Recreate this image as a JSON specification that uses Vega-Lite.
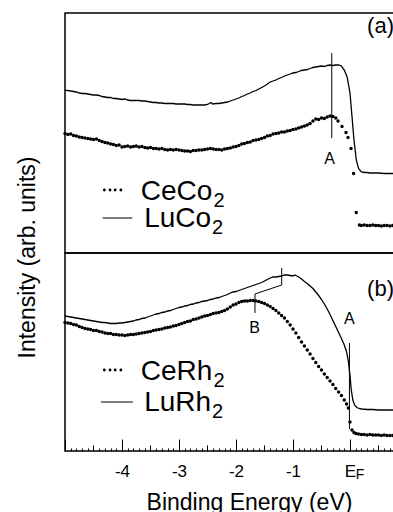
{
"$schema": "https://vega.github.io/schema/vega-lite/v6.json",
"padding": {"left": 15, "top": 12, "right": 0, "bottom": 0},
"background": "white",
"spacing": 0,
"bounds": "flush",
"config": {"font": "Liberation Sans", "view": {"stroke": "black", "strokeWidth": 1.5}},
"datasets": {
"coLine": [{"e":-5,"i":162.7},{"e":-4.95,"i":162.5},{"e":-4.9,"i":162},{"e":-4.85,"i":161.5},{"e":-4.8,"i":161},{"e":-4.75,"i":160},{"e":-4.7,"i":159.5},{"e":-4.65,"i":159.5},{"e":-4.6,"i":159},{"e":-4.55,"i":158.5},{"e":-4.5,"i":158},{"e":-4.45,"i":158},{"e":-4.4,"i":157.5},{"e":-4.35,"i":156.5},{"e":-4.3,"i":156},{"e":-4.25,"i":155.5},{"e":-4.2,"i":155.5},{"e":-4.15,"i":154.5},{"e":-4.1,"i":154.5},{"e":-4.05,"i":154},{"e":-4,"i":153.5},{"e":-3.95,"i":154},{"e":-3.9,"i":153},{"e":-3.85,"i":152.5},{"e":-3.8,"i":152.5},{"e":-3.75,"i":152.5},{"e":-3.7,"i":152.5},{"e":-3.65,"i":152},{"e":-3.6,"i":152},{"e":-3.55,"i":151.5},{"e":-3.5,"i":151},{"e":-3.45,"i":150.5},{"e":-3.4,"i":150.5},{"e":-3.35,"i":150},{"e":-3.3,"i":150},{"e":-3.25,"i":149.5},{"e":-3.2,"i":149.5},{"e":-3.15,"i":149.5},{"e":-3.1,"i":149.5},{"e":-3.05,"i":149},{"e":-3,"i":149},{"e":-2.95,"i":149},{"e":-2.9,"i":149},{"e":-2.85,"i":148.5},{"e":-2.8,"i":148.5},{"e":-2.75,"i":148},{"e":-2.7,"i":148},{"e":-2.65,"i":148},{"e":-2.6,"i":148},{"e":-2.55,"i":148},{"e":-2.5,"i":148.5},{"e":-2.47,"i":149.5},{"e":-2.44,"i":150.5},{"e":-2.41,"i":149},{"e":-2.35,"i":149.5},{"e":-2.3,"i":149.5},{"e":-2.25,"i":150},{"e":-2.2,"i":150.5},{"e":-2.15,"i":151},{"e":-2.1,"i":152},{"e":-2.05,"i":153},{"e":-2,"i":154},{"e":-1.95,"i":155},{"e":-1.9,"i":156.5},{"e":-1.85,"i":157.5},{"e":-1.8,"i":159},{"e":-1.75,"i":160},{"e":-1.7,"i":161.5},{"e":-1.65,"i":162.5},{"e":-1.6,"i":164},{"e":-1.55,"i":165.5},{"e":-1.5,"i":167},{"e":-1.45,"i":169},{"e":-1.4,"i":171},{"e":-1.35,"i":172},{"e":-1.3,"i":173},{"e":-1.25,"i":174.5},{"e":-1.2,"i":175.5},{"e":-1.15,"i":177},{"e":-1.1,"i":178},{"e":-1.05,"i":179},{"e":-1,"i":180},{"e":-0.95,"i":180.5},{"e":-0.9,"i":181.5},{"e":-0.85,"i":182.5},{"e":-0.8,"i":183},{"e":-0.75,"i":183.5},{"e":-0.7,"i":184.5},{"e":-0.65,"i":185.5},{"e":-0.6,"i":186},{"e":-0.55,"i":186.5},{"e":-0.5,"i":187},{"e":-0.45,"i":186.5},{"e":-0.4,"i":187.5},{"e":-0.35,"i":188},{"e":-0.3,"i":187.5},{"e":-0.25,"i":188},{"e":-0.2,"i":188},{"e":-0.15,"i":187},{"e":-0.1,"i":183},{"e":-0.05,"i":176},{"e":0,"i":160},{"e":0.03,"i":140},{"e":0.07,"i":113},{"e":0.11,"i":93},{"e":0.15,"i":84.5},{"e":0.2,"i":81},{"e":0.25,"i":80.5},{"e":0.3,"i":80.5},{"e":0.35,"i":80},{"e":0.4,"i":80},{"e":0.5,"i":80},{"e":0.6,"i":79.5},{"e":0.7,"i":79.5},{"e":0.77,"i":79.5}],
"coDots": [{"e":-5,"i":119.5},{"e":-4.95,"i":118.5},{"e":-4.9,"i":119},{"e":-4.85,"i":117.5},{"e":-4.8,"i":117},{"e":-4.75,"i":116},{"e":-4.7,"i":115.5},{"e":-4.65,"i":115},{"e":-4.6,"i":114.5},{"e":-4.55,"i":114},{"e":-4.5,"i":113.5},{"e":-4.45,"i":114},{"e":-4.4,"i":112.5},{"e":-4.35,"i":111.5},{"e":-4.3,"i":110.5},{"e":-4.25,"i":110},{"e":-4.2,"i":109},{"e":-4.15,"i":108.5},{"e":-4.1,"i":107.5},{"e":-4.05,"i":108},{"e":-4,"i":106},{"e":-3.95,"i":106.5},{"e":-3.9,"i":107},{"e":-3.85,"i":106},{"e":-3.8,"i":106.5},{"e":-3.75,"i":107},{"e":-3.7,"i":106},{"e":-3.65,"i":106.5},{"e":-3.6,"i":105.5},{"e":-3.55,"i":105},{"e":-3.5,"i":105.5},{"e":-3.45,"i":104.5},{"e":-3.4,"i":104.5},{"e":-3.35,"i":104},{"e":-3.3,"i":104.5},{"e":-3.25,"i":103.5},{"e":-3.2,"i":103},{"e":-3.15,"i":103.5},{"e":-3.1,"i":103},{"e":-3.05,"i":103.5},{"e":-3,"i":103},{"e":-2.95,"i":102.5},{"e":-2.9,"i":102},{"e":-2.85,"i":102},{"e":-2.8,"i":101.5},{"e":-2.75,"i":102.5},{"e":-2.7,"i":102.5},{"e":-2.65,"i":103},{"e":-2.6,"i":103},{"e":-2.55,"i":103.5},{"e":-2.5,"i":104},{"e":-2.45,"i":104.5},{"e":-2.4,"i":104},{"e":-2.35,"i":103.5},{"e":-2.3,"i":103.5},{"e":-2.25,"i":103},{"e":-2.2,"i":104},{"e":-2.15,"i":104.5},{"e":-2.1,"i":105},{"e":-2.05,"i":106},{"e":-2,"i":106.5},{"e":-1.95,"i":107.5},{"e":-1.9,"i":109},{"e":-1.85,"i":109.5},{"e":-1.8,"i":110.5},{"e":-1.75,"i":111},{"e":-1.7,"i":112.5},{"e":-1.65,"i":113},{"e":-1.6,"i":113.5},{"e":-1.55,"i":114.5},{"e":-1.5,"i":115.5},{"e":-1.45,"i":117},{"e":-1.4,"i":117.5},{"e":-1.35,"i":119},{"e":-1.3,"i":119.5},{"e":-1.25,"i":120},{"e":-1.2,"i":121},{"e":-1.15,"i":121},{"e":-1.1,"i":122},{"e":-1.05,"i":122.5},{"e":-1,"i":123.5},{"e":-0.95,"i":124},{"e":-0.9,"i":125},{"e":-0.85,"i":126},{"e":-0.8,"i":127},{"e":-0.75,"i":128},{"e":-0.7,"i":129.5},{"e":-0.65,"i":132},{"e":-0.6,"i":134},{"e":-0.55,"i":133.5},{"e":-0.5,"i":135},{"e":-0.45,"i":134.5},{"e":-0.4,"i":136},{"e":-0.35,"i":137},{"e":-0.3,"i":136.5},{"e":-0.25,"i":135},{"e":-0.21,"i":132},{"e":-0.14,"i":126.5},{"e":-0.07,"i":120.5},{"e":-0.035,"i":115.5},{"e":0.018,"i":104.5},{"e":0.064,"i":79.5},{"e":0.11,"i":40.5},{"e":0.165,"i":28},{"e":0.2,"i":27.5},{"e":0.25,"i":28},{"e":0.3,"i":27.5},{"e":0.35,"i":27.5},{"e":0.4,"i":28},{"e":0.45,"i":27.5},{"e":0.5,"i":27.5},{"e":0.55,"i":27},{"e":0.6,"i":27.5},{"e":0.65,"i":27.5},{"e":0.7,"i":27},{"e":0.75,"i":27.5}],
"rhLine": [{"e":-5,"i":135},{"e":-4.95,"i":134.5},{"e":-4.9,"i":134},{"e":-4.85,"i":133.5},{"e":-4.8,"i":133},{"e":-4.75,"i":132.5},{"e":-4.7,"i":132},{"e":-4.65,"i":131.5},{"e":-4.6,"i":131},{"e":-4.55,"i":130.5},{"e":-4.5,"i":130},{"e":-4.45,"i":129.5},{"e":-4.4,"i":129},{"e":-4.35,"i":128.5},{"e":-4.3,"i":128.5},{"e":-4.25,"i":128},{"e":-4.2,"i":127.5},{"e":-4.15,"i":127.5},{"e":-4.1,"i":127.5},{"e":-4.05,"i":128},{"e":-4,"i":128},{"e":-3.95,"i":128.5},{"e":-3.9,"i":129},{"e":-3.85,"i":129.5},{"e":-3.8,"i":130},{"e":-3.75,"i":131},{"e":-3.7,"i":131.5},{"e":-3.65,"i":132.5},{"e":-3.6,"i":133},{"e":-3.55,"i":134},{"e":-3.5,"i":135},{"e":-3.45,"i":136},{"e":-3.4,"i":137},{"e":-3.35,"i":137.5},{"e":-3.3,"i":138.5},{"e":-3.25,"i":139},{"e":-3.2,"i":140},{"e":-3.15,"i":140.5},{"e":-3.1,"i":141.5},{"e":-3.05,"i":142.5},{"e":-3,"i":143.5},{"e":-2.95,"i":144},{"e":-2.9,"i":145},{"e":-2.85,"i":145.5},{"e":-2.8,"i":146.5},{"e":-2.75,"i":147},{"e":-2.7,"i":148},{"e":-2.65,"i":148.5},{"e":-2.6,"i":149.5},{"e":-2.55,"i":150},{"e":-2.5,"i":150.5},{"e":-2.45,"i":151.5},{"e":-2.4,"i":152},{"e":-2.35,"i":153},{"e":-2.3,"i":153.5},{"e":-2.25,"i":154.5},{"e":-2.2,"i":155.5},{"e":-2.15,"i":156.5},{"e":-2.1,"i":158},{"e":-2.05,"i":159},{"e":-2,"i":159.5},{"e":-1.95,"i":160.5},{"e":-1.9,"i":161.5},{"e":-1.85,"i":162.5},{"e":-1.8,"i":163.5},{"e":-1.75,"i":164.5},{"e":-1.7,"i":165.5},{"e":-1.65,"i":166.5},{"e":-1.6,"i":167.5},{"e":-1.55,"i":168.5},{"e":-1.5,"i":170},{"e":-1.45,"i":171.5},{"e":-1.4,"i":173},{"e":-1.35,"i":174},{"e":-1.3,"i":174},{"e":-1.25,"i":174.5},{"e":-1.2,"i":175},{"e":-1.15,"i":176},{"e":-1.1,"i":176},{"e":-1.05,"i":175.5},{"e":-1,"i":175},{"e":-0.97,"i":176},{"e":-0.93,"i":175},{"e":-0.9,"i":174},{"e":-0.85,"i":172},{"e":-0.8,"i":169.5},{"e":-0.75,"i":167.5},{"e":-0.7,"i":165},{"e":-0.65,"i":162.5},{"e":-0.6,"i":159},{"e":-0.55,"i":155.5},{"e":-0.5,"i":151.5},{"e":-0.45,"i":147},{"e":-0.4,"i":142},{"e":-0.35,"i":136.5},{"e":-0.3,"i":130.5},{"e":-0.25,"i":124.5},{"e":-0.2,"i":118.5},{"e":-0.15,"i":112.5},{"e":-0.1,"i":106},{"e":-0.06,"i":99},{"e":-0.03,"i":90},{"e":0,"i":76},{"e":0.02,"i":62},{"e":0.05,"i":51},{"e":0.08,"i":46},{"e":0.12,"i":43.5},{"e":0.16,"i":42.5},{"e":0.2,"i":42},{"e":0.3,"i":41.5},{"e":0.4,"i":41.5},{"e":0.5,"i":41},{"e":0.6,"i":41},{"e":0.7,"i":41},{"e":0.77,"i":41}],
"rhDots": [{"e":-5,"i":128.5},{"e":-4.95,"i":128},{"e":-4.9,"i":127.5},{"e":-4.85,"i":126.5},{"e":-4.8,"i":126},{"e":-4.75,"i":124.5},{"e":-4.7,"i":123.5},{"e":-4.65,"i":122.5},{"e":-4.6,"i":122},{"e":-4.55,"i":121.5},{"e":-4.5,"i":120.5},{"e":-4.45,"i":120.5},{"e":-4.4,"i":119.5},{"e":-4.35,"i":119},{"e":-4.3,"i":118},{"e":-4.25,"i":117.5},{"e":-4.2,"i":117.5},{"e":-4.15,"i":116.5},{"e":-4.1,"i":116.5},{"e":-4.05,"i":116},{"e":-4,"i":116},{"e":-3.95,"i":115.5},{"e":-3.9,"i":116},{"e":-3.85,"i":116.5},{"e":-3.8,"i":116.5},{"e":-3.75,"i":117},{"e":-3.7,"i":117.5},{"e":-3.65,"i":118},{"e":-3.6,"i":118.5},{"e":-3.55,"i":119},{"e":-3.5,"i":119.5},{"e":-3.45,"i":120.5},{"e":-3.4,"i":121},{"e":-3.35,"i":121.5},{"e":-3.3,"i":122},{"e":-3.25,"i":123},{"e":-3.2,"i":123.5},{"e":-3.15,"i":124},{"e":-3.1,"i":125},{"e":-3.05,"i":125.5},{"e":-3,"i":126.5},{"e":-2.95,"i":127.5},{"e":-2.9,"i":128.5},{"e":-2.85,"i":129.5},{"e":-2.8,"i":130},{"e":-2.75,"i":131.5},{"e":-2.7,"i":132},{"e":-2.65,"i":133},{"e":-2.6,"i":134},{"e":-2.55,"i":135},{"e":-2.5,"i":135.5},{"e":-2.45,"i":136.5},{"e":-2.4,"i":137.5},{"e":-2.35,"i":138},{"e":-2.3,"i":138.5},{"e":-2.25,"i":139.5},{"e":-2.2,"i":140.5},{"e":-2.15,"i":142},{"e":-2.1,"i":144},{"e":-2.05,"i":146},{"e":-2,"i":147},{"e":-1.95,"i":148.5},{"e":-1.9,"i":149.5},{"e":-1.85,"i":150},{"e":-1.8,"i":150},{"e":-1.75,"i":150.5},{"e":-1.7,"i":150.5},{"e":-1.65,"i":150},{"e":-1.6,"i":149.5},{"e":-1.55,"i":148.5},{"e":-1.5,"i":147.5},{"e":-1.45,"i":146},{"e":-1.4,"i":144.5},{"e":-1.35,"i":142.5},{"e":-1.3,"i":140.5},{"e":-1.25,"i":138},{"e":-1.2,"i":135.5},{"e":-1.15,"i":133},{"e":-1.1,"i":129.5},{"e":-1.05,"i":126},{"e":-1,"i":122},{"e":-0.95,"i":118},{"e":-0.9,"i":113.5},{"e":-0.85,"i":109},{"e":-0.8,"i":105},{"e":-0.75,"i":101},{"e":-0.7,"i":97},{"e":-0.65,"i":92.5},{"e":-0.6,"i":88.5},{"e":-0.55,"i":84.5},{"e":-0.5,"i":81},{"e":-0.45,"i":77},{"e":-0.4,"i":73.5},{"e":-0.35,"i":70},{"e":-0.3,"i":66.5},{"e":-0.25,"i":62.5},{"e":-0.2,"i":59},{"e":-0.15,"i":55.5},{"e":-0.1,"i":51},{"e":-0.06,"i":47},{"e":-0.03,"i":43},{"e":0,"i":29},{"e":0.035,"i":21},{"e":0.07,"i":18.5},{"e":0.105,"i":17.5},{"e":0.15,"i":17},{"e":0.2,"i":16.5},{"e":0.25,"i":16.5},{"e":0.3,"i":16},{"e":0.35,"i":16.5},{"e":0.4,"i":16},{"e":0.45,"i":16},{"e":0.5,"i":16},{"e":0.55,"i":15.5},{"e":0.6,"i":16},{"e":0.65,"i":15.5},{"e":0.7,"i":15.5},{"e":0.75,"i":15.5}],
"segs": [{"p":"a","e":-0.32,"i":115,"e2":-0.32,"i2":200},{"p":"a","e":-4.34,"i":35,"e2":-3.82,"i2":35},{"p":"b","e":-0.01,"i":22,"e2":-0.01,"i2":108},{"p":"b","e":-1.667,"i":138,"e2":-1.667,"i2":157},{"p":"b","e":-1.667,"i":157,"e2":-1.198,"i2":166},{"p":"b","e":-1.198,"i":166,"e2":-1.198,"i2":183},{"p":"b","e":-4.37,"i":49,"e2":-3.81,"i2":49}],
"legDots": [{"p":"a","e":-4.31,"i":63},{"p":"a","e":-4.21,"i":63},{"p":"a","e":-4.12,"i":63},{"p":"a","e":-4.02,"i":63},{"p":"b","e":-4.31,"i":81},{"p":"b","e":-4.21,"i":81},{"p":"b","e":-4.12,"i":81},{"p":"b","e":-4.02,"i":81}],
"lbl": [{"p":"a","e":-0.36,"i":89,"t":"A"},{"p":"b","e":-0.01,"i":127,"t":"A"},{"p":"b","e":-1.675,"i":118,"t":"B"}],
"tag": [{"p":"a","e":0.3,"i":220,"t":"(a)"},{"p":"b","e":0.3,"i":155,"t":"(b)"}],
"leg": [{"p":"a","e":-3.67,"i":53,"t":"CeCo"},{"p":"a","e":-3.61,"i":26,"t":"LuCo"},{"p":"b","e":-3.67,"i":71,"t":"CeRh"},{"p":"b","e":-3.61,"i":40,"t":"LuRh"}],
"sub": [{"p":"a","e":-2.393,"i":46,"t":"2"},{"p":"a","e":-2.42,"i":19,"t":"2"},{"p":"b","e":-2.393,"i":64,"t":"2"},{"p":"b","e":-2.42,"i":33,"t":"2"},{"p":"b","e":0.175,"i":-28,"t":"F"}]
},
"vconcat": [
{
"width": 329, "height": 240,
"encoding": {
"x": {"field": "e", "type": "quantitative", "scale": {"domain": [-5, 0.772], "nice": false, "zero": false}, "axis": null},
"y": {"field": "i", "type": "quantitative", "scale": {"domain": [0, 240], "nice": false, "zero": false},
"axis": {"title": "Intensity (arb. units)", "labels": false, "ticks": false, "domain": false, "grid": false, "titleFontSize": 23, "titleFontWeight": "normal", "titleColor": "black", "titlePadding": 26, "titleY": 244}}
},
"layer": [
{"data": {"name": "coLine"}, "mark": {"type": "line", "color": "black", "strokeWidth": 1.3}},
{"data": {"name": "coDots"}, "mark": {"type": "point", "filled": true, "color": "black", "size": 12, "opacity": 1}},
{"data": {"name": "segs"}, "transform": [{"filter": "datum.p == 'a'"}], "mark": {"type": "rule", "color": "black", "strokeWidth": 1}, "encoding": {"x2": {"field": "e2"}, "y2": {"field": "i2"}}},
{"data": {"name": "legDots"}, "transform": [{"filter": "datum.p == 'a'"}], "mark": {"type": "point", "filled": true, "color": "black", "size": 8, "opacity": 1}},
{"data": {"name": "lbl"}, "transform": [{"filter": "datum.p == 'a'"}], "mark": {"type": "text", "fontSize": 16, "align": "center", "baseline": "alphabetic", "color": "black"}, "encoding": {"text": {"field": "t"}}},
{"data": {"name": "tag"}, "transform": [{"filter": "datum.p == 'a'"}], "mark": {"type": "text", "fontSize": 22, "align": "left", "baseline": "alphabetic", "color": "black"}, "encoding": {"text": {"field": "t"}}},
{"data": {"name": "leg"}, "transform": [{"filter": "datum.p == 'a'"}], "mark": {"type": "text", "fontSize": 28, "align": "left", "baseline": "alphabetic", "color": "black"}, "encoding": {"text": {"field": "t"}}},
{"data": {"name": "sub"}, "transform": [{"filter": "datum.p == 'a'"}], "mark": {"type": "text", "fontSize": 20, "align": "left", "baseline": "alphabetic", "color": "black"}, "encoding": {"text": {"field": "t"}}}
]
},
{
"width": 329, "height": 198,
"encoding": {
"x": {"field": "e", "type": "quantitative", "scale": {"domain": [-5, 0.772], "nice": false, "zero": false},
"axis": {"title": "Binding Energy (eV)", "titleFontSize": 23, "titleFontWeight": "normal", "titleColor": "black", "titleX": 184, "titlePadding": 3,
"values": [-5,-4.9,-4.8,-4.7,-4.6,-4.5,-4.4,-4.3,-4.2,-4.1,-4,-3.9,-3.8,-3.7,-3.6,-3.5,-3.4,-3.3,-3.2,-3.1,-3,-2.9,-2.8,-2.7,-2.6,-2.5,-2.4,-2.3,-2.2,-2.1,-2,-1.9,-1.8,-1.7,-1.6,-1.5,-1.4,-1.3,-1.2,-1.1,-1,-0.9,-0.8,-0.7,-0.6,-0.5,-0.4,-0.3,-0.2,-0.1,0,0.1,0.2,0.3,0.4,0.5,0.6,0.7],
"tickSize": {"expr": "abs(datum.value - round(datum.value)) < 0.01 ? -12 : (abs(datum.value * 2 - round(datum.value * 2)) < 0.01 ? -6 : -3)"},
"tickColor": "black", "tickWidth": 1,
"labelExpr": "abs(datum.value - round(datum.value)) < 0.01 && datum.value > -4.5 ? (abs(datum.value) < 0.01 ? 'E' : '' + round(datum.value)) : ''",
"labelFontSize": 17, "labelColor": "black", "labelPadding": 24, "labelOverlap": false, "labelFlush": false, "labelBound": false,
"domain": false, "grid": false}},
"y": {"field": "i", "type": "quantitative", "scale": {"domain": [0, 198], "nice": false, "zero": false}, "axis": null}
},
"layer": [
{"data": {"name": "rhLine"}, "mark": {"type": "line", "color": "black", "strokeWidth": 1.3}},
{"data": {"name": "rhDots"}, "mark": {"type": "point", "filled": true, "color": "black", "size": 12, "opacity": 1}},
{"data": {"name": "segs"}, "transform": [{"filter": "datum.p == 'b'"}], "mark": {"type": "rule", "color": "black", "strokeWidth": 1}, "encoding": {"x2": {"field": "e2"}, "y2": {"field": "i2"}}},
{"data": {"name": "legDots"}, "transform": [{"filter": "datum.p == 'b'"}], "mark": {"type": "point", "filled": true, "color": "black", "size": 8, "opacity": 1}},
{"data": {"name": "lbl"}, "transform": [{"filter": "datum.p == 'b'"}], "mark": {"type": "text", "fontSize": 16, "align": "center", "baseline": "alphabetic", "color": "black"}, "encoding": {"text": {"field": "t"}}},
{"data": {"name": "tag"}, "transform": [{"filter": "datum.p == 'b'"}], "mark": {"type": "text", "fontSize": 22, "align": "left", "baseline": "alphabetic", "color": "black"}, "encoding": {"text": {"field": "t"}}},
{"data": {"name": "leg"}, "transform": [{"filter": "datum.p == 'b'"}], "mark": {"type": "text", "fontSize": 28, "align": "left", "baseline": "alphabetic", "color": "black"}, "encoding": {"text": {"field": "t"}}},
{"data": {"name": "sub"}, "transform": [{"filter": "datum.p == 'b' && datum.t == '2'"}], "mark": {"type": "text", "fontSize": 20, "align": "left", "baseline": "alphabetic", "color": "black"}, "encoding": {"text": {"field": "t"}}},
{"data": {"name": "sub"}, "transform": [{"filter": "datum.t == 'F'"}], "mark": {"type": "text", "fontSize": 14, "align": "center", "baseline": "alphabetic", "color": "black"}, "encoding": {"text": {"field": "t"}}}
]
}
]
}
